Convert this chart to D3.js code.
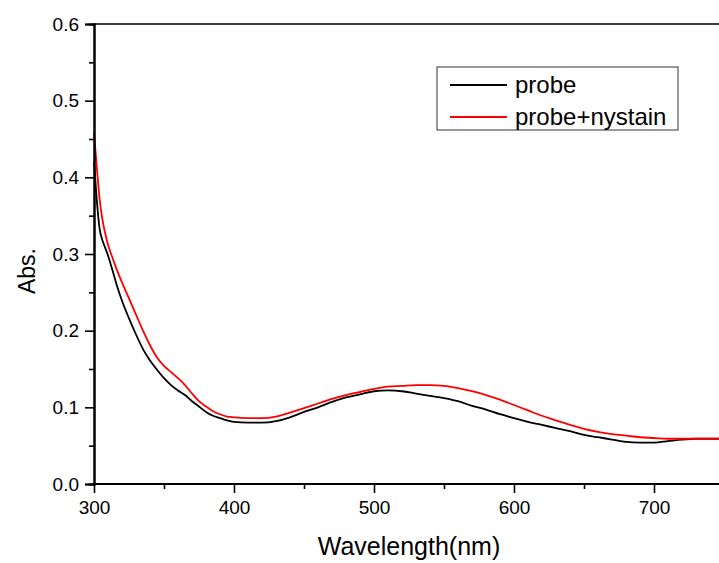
<!DOCTYPE html>
<html lang="en">
<head>
  <meta charset="UTF-8">
  <script src="https://d3js.org/d3.v7.min.js"></script>
  <style>
    body {
      margin: 0;
      padding: 0;
      background: #fff;
      overflow: hidden;
    }
    svg text {
      font-family: Arial, "Liberation Sans", sans-serif;
      fill: #000;
    }
  </style>
</head>
<body>
  <div id="chart"></div>

  <script>
    // wavelength grid (nm)
    const wavelengths = [300, 302, 304, 306, 308, 310, 313, 316, 320, 325, 330, 335, 340, 345, 350,
      355, 360, 365, 370, 375, 380, 385, 390, 395, 400, 410, 420, 430, 440, 450, 460, 470, 480,
      490, 500, 510, 520, 530, 540, 550, 560, 570, 580, 590, 600, 610, 620, 630, 640, 650, 660,
      670, 680, 690, 700, 710, 720, 730, 740, 750];

    const probe = [0.420, 0.370, 0.333, 0.318, 0.308, 0.298, 0.280, 0.261, 0.239, 0.216, 0.195,
      0.176, 0.161, 0.149, 0.138, 0.129, 0.122, 0.116, 0.108, 0.101, 0.094, 0.089, 0.086, 0.083,
      0.081, 0.080, 0.080, 0.082, 0.087, 0.094, 0.100, 0.107, 0.113, 0.117, 0.121, 0.122, 0.121,
      0.118, 0.115, 0.112, 0.108, 0.102, 0.097, 0.091, 0.086, 0.081, 0.077, 0.073, 0.069, 0.064,
      0.061, 0.058, 0.055, 0.054, 0.054, 0.056, 0.058, 0.059, 0.059, 0.059];

    const probeNystain = [0.458, 0.413, 0.372, 0.345, 0.327, 0.312, 0.296, 0.281, 0.263, 0.242,
      0.221, 0.200, 0.181, 0.165, 0.154, 0.146, 0.138, 0.129, 0.118, 0.108, 0.101, 0.095, 0.091,
      0.088, 0.087, 0.086, 0.086, 0.088, 0.093, 0.099, 0.105, 0.111, 0.116, 0.120, 0.124, 0.127,
      0.128, 0.129, 0.129, 0.128, 0.125, 0.121, 0.116, 0.110, 0.103, 0.096, 0.089, 0.083, 0.077,
      0.072, 0.068, 0.065, 0.063, 0.061, 0.060, 0.059, 0.059, 0.059, 0.059, 0.059];

    const seriesNames = ["probe", "probe+nystain"];
    const seriesColors = ["#000000", "#ff0000"];
    const xTicks = [300, 400, 500, 600, 700];
    const yTicks = [0.0, 0.1, 0.2, 0.3, 0.4, 0.5, 0.6];

    const width = 719, height = 563;
    const margin = {top: 24, left: 94, bottom: 79};

    const svg = d3.select("#chart")
      .append("svg")
      .attr("width", width)
      .attr("height", height);

    const x = d3.scaleLinear().domain([300, 750]).range([margin.left, 724]);
    const y = d3.scaleLinear().domain([0, 0.6]).range([height - margin.bottom, margin.top]);

    // curves
    const series = [probe, probeNystain];
    const line = d3.line()
      .x((d, i) => x(wavelengths[i]))
      .y(d => y(d))
      .curve(d3.curveMonotoneX);

    svg.append("g")
      .selectAll("path")
      .data(series)
      .enter()
      .append("path")
      .attr("d", line)
      .attr("fill", "none")
      .attr("stroke", (d, i) => seriesColors[i])
      .attr("stroke-width", 1.8);

    // top frame line
    svg.append("line")
      .attr("x1", x(300)).attr("x2", width)
      .attr("y1", y(0.6)).attr("y2", y(0.6))
      .attr("stroke", "#000")
      .attr("stroke-width", 1.6);

    // x axis
    const xAxis = svg.append("g")
      .attr("transform", `translate(0,${y(0)})`)
      .call(d3.axisBottom(x).tickValues(xTicks).tickSize(9).tickPadding(8).tickFormat(d3.format("d")));
    xAxis.append("g")
      .call(d3.axisBottom(x).tickValues([350, 450, 550, 650, 750]).tickSize(5).tickFormat(""));

    // y axis
    const yAxis = svg.append("g")
      .attr("transform", `translate(${x(300)},0)`)
      .call(d3.axisLeft(y).tickValues(yTicks).tickSize(9).tickPadding(6).tickFormat(d3.format(".1f")));
    yAxis.append("g")
      .call(d3.axisLeft(y).tickValues([0.05, 0.15, 0.25, 0.35, 0.45, 0.55]).tickSize(5).tickFormat(""));

    svg.selectAll(".domain").attr("stroke-width", 2);
    svg.selectAll(".tick line").attr("stroke-width", 1.6);
    svg.selectAll(".tick text").style("font-size", "19px").attr("fill", "#000");
    xAxis.selectAll(".domain").attr("d", `M${x(300)},0H${width}`);

    // axis titles
    svg.append("text")
      .attr("x", 409)
      .attr("y", 555)
      .attr("text-anchor", "middle")
      .style("font-size", "25px")
      .text("Wavelength(nm)");

    svg.append("text")
      .attr("transform", "translate(35,271) rotate(-90)")
      .attr("text-anchor", "middle")
      .style("font-size", "23px")
      .text("Abs.");

    // legend
    const legend = svg.append("g");
    legend.append("rect")
      .attr("x", 437).attr("y", 67)
      .attr("width", 241).attr("height", 63)
      .attr("fill", "#fff")
      .attr("stroke", "#333")
      .attr("stroke-width", 1);

    seriesNames.forEach((name, i) => {
      const ly = 85 + i * 32;
      legend.append("line")
        .attr("x1", 450).attr("x2", 507)
        .attr("y1", ly).attr("y2", ly)
        .attr("stroke", seriesColors[i])
        .attr("stroke-width", 1.8);
      legend.append("text")
        .attr("x", 515)
        .attr("y", ly + 8)
        .style("font-size", "24px")
        .text(name);
    });
  </script>
</body>
</html>
